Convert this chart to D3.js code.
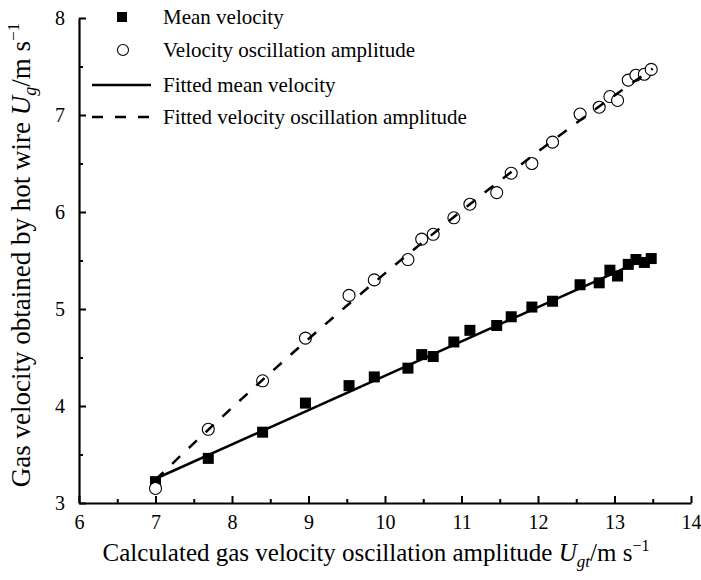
<!DOCTYPE html>
<html><head><meta charset="utf-8">
<script src="https://cdn.jsdelivr.net/npm/d3@7"></script>
<style>
body{margin:0;background:#fff;}
svg text{font-family:"Liberation Serif","Times New Roman",serif;fill:#000;}
</style></head>
<body><svg id="c" width="701" height="580"></svg>
<script>
// Data
const calcAmp   = [7.00,7.69,8.40,8.96,9.53,9.86,10.30,10.48,10.63,10.90,11.11,11.46,11.65,11.92,12.19,12.55,12.80,12.94,13.04,13.18,13.28,13.39,13.48];
const meanVel   = [3.22,3.46,3.73,4.03,4.21,4.30,4.39,4.53,4.51,4.66,4.78,4.83,4.92,5.02,5.08,5.25,5.27,5.40,5.34,5.46,5.51,5.48,5.52];
const ampVel    = [3.15,3.76,4.26,4.70,5.14,5.30,5.51,5.72,5.77,5.94,6.08,6.20,6.40,6.50,6.72,7.01,7.08,7.19,7.15,7.36,7.41,7.42,7.47];
// fitted curves
const fitMeanX  = [7.0, 13.5];
const fitMeanY  = [3.25, 5.55];
const fitAmpX   = [7.0,7.5,8.0,8.5,9.0,9.5,10.0,10.5,11.0,11.5,12.0,12.5,13.0,13.5];
const fitAmpY   = [3.24,3.615,3.982,4.340,4.691,5.033,5.367,5.693,6.011,6.321,6.622,6.916,7.201,7.478];
const xTicks    = [6,7,8,9,10,11,12,13,14];
const yTicks    = [3,4,5,6,7,8];
const xMinor    = [6.5,7.5,8.5,9.5,10.5,11.5,12.5,13.5];
const yMinor    = [3.5,4.5,5.5,6.5,7.5];
const legendLabels = ["Mean velocity","Velocity oscillation amplitude","Fitted mean velocity","Fitted velocity oscillation amplitude"];

const svg = d3.select("#c");
const L=79, R=691, T=18, B=503;
const x = d3.scaleLinear().domain([6,14]).range([L,R]);
const y = d3.scaleLinear().domain([3,8]).range([B,T]);

// axes
svg.append("g").attr("transform",`translate(0,${B})`)
  .call(d3.axisBottom(x).tickValues(xTicks).tickFormat(d3.format("d")).tickSizeInner(-7).tickSizeOuter(0).tickPadding(12));
svg.append("g").attr("transform",`translate(0,${B})`)
  .call(d3.axisBottom(x).tickValues(xMinor).tickFormat("").tickSizeInner(-4).tickSizeOuter(0))
  .select(".domain").remove();
svg.append("g").attr("transform",`translate(${L},0)`)
  .call(d3.axisLeft(y).tickValues(yTicks).tickFormat(d3.format("d")).tickSizeInner(-7).tickSizeOuter(0).tickPadding(14));
svg.append("g").attr("transform",`translate(${L},0)`)
  .call(d3.axisLeft(y).tickValues(yMinor).tickFormat("").tickSizeInner(-4).tickSizeOuter(0))
  .select(".domain").remove();
svg.selectAll(".domain").attr("stroke","#000").attr("stroke-width",2.2);
svg.selectAll(".tick line").attr("stroke","#000").attr("stroke-width",2);
svg.selectAll(".tick text").attr("font-size",20);

// markers
const sq = 11;
svg.append("g").selectAll("rect").data(calcAmp).join("rect")
  .attr("x",(d)=>x(d)-sq/2).attr("y",(d,i)=>y(meanVel[i])-sq/2)
  .attr("width",sq).attr("height",sq).attr("fill","#000");
svg.append("g").selectAll("circle").data(calcAmp).join("circle")
  .attr("cx",d=>x(d)).attr("cy",(d,i)=>y(ampVel[i])).attr("r",6)
  .attr("fill","#fff").attr("stroke","#000").attr("stroke-width",1.1);

// fitted lines
const line = d3.line().x(d=>x(d[0])).y(d=>y(d[1]));
svg.append("path").datum(fitMeanX.map((d,i)=>[d,fitMeanY[i]])).attr("d",line)
  .attr("fill","none").attr("stroke","#000").attr("stroke-width",2.5);
svg.append("path").datum(fitAmpX.map((d,i)=>[d,fitAmpY[i]])).attr("d",d3.line().curve(d3.curveMonotoneX).x(d=>x(d[0])).y(d=>y(d[1])))
  .attr("fill","none").attr("stroke","#000").attr("stroke-width",2.5).attr("stroke-dasharray","11,12");

// legend
const lg = svg.append("g");
const rowsY = [17,50,85,117];
lg.append("rect").attr("x",122-5).attr("y",rowsY[0]-5).attr("width",10).attr("height",10).attr("fill","#000");
lg.append("circle").attr("cx",123).attr("cy",rowsY[1]).attr("r",5.5).attr("fill","#fff").attr("stroke","#000").attr("stroke-width",1.1);
lg.append("line").attr("x1",92).attr("x2",151).attr("y1",rowsY[2]).attr("y2",rowsY[2]).attr("stroke","#000").attr("stroke-width",2.5);
lg.append("line").attr("x1",92).attr("x2",151).attr("y1",rowsY[3]).attr("y2",rowsY[3]).attr("stroke","#000").attr("stroke-width",2.5).attr("stroke-dasharray","11,12");
legendLabels.forEach((t,i)=>{
  lg.append("text").attr("x",163).attr("y",rowsY[i]+7).attr("font-size",21).text(t);
});

// axis titles
const xt = svg.append("text").attr("x",376).attr("y",561).attr("text-anchor","middle").attr("font-size",25);
xt.append("tspan").text("Calculated gas velocity oscillation amplitude ");
xt.append("tspan").attr("font-style","italic").text("U");
xt.append("tspan").attr("font-style","italic").attr("font-size",17).attr("dy",6).text("gt");
xt.append("tspan").attr("dy",-6).text("/m s");
xt.append("tspan").attr("font-size",16).attr("dy",-10).text("\u22121");

const yt = svg.append("text").attr("transform",`translate(30,255) rotate(-90)`).attr("text-anchor","middle").attr("font-size",27);
yt.append("tspan").text("Gas velocity obtained by hot wire ");
yt.append("tspan").attr("font-style","italic").text("U");
yt.append("tspan").attr("font-style","italic").attr("font-size",18).attr("dy",6).text("g");
yt.append("tspan").attr("dy",-6).text("/m s");
yt.append("tspan").attr("font-size",17).attr("dy",-11).text("\u22121");
</script></body></html>
